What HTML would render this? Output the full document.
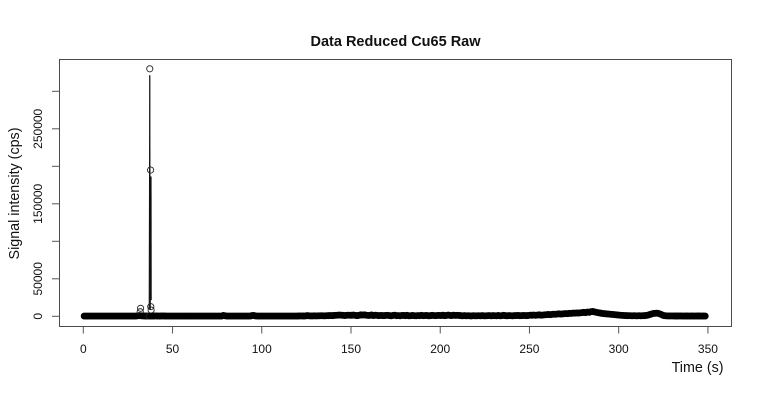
<!DOCTYPE html>
<html>
<head>
<meta charset="utf-8">
<title>Data Reduced Cu65 Raw</title>
<style>
html,body{margin:0;padding:0;background:#fff;width:760px;height:400px;overflow:hidden}
svg{display:block}
text{font-family:"Liberation Sans",Arial,sans-serif;fill:#111}
</style>
</head>
<body>
<svg id="chart" xmlns="http://www.w3.org/2000/svg" width="760" height="400" viewBox="0 0 760 400">
  <rect width="760" height="400" fill="#fff"/>
  <text x="395.5" y="46" font-size="14.5" font-weight="bold" text-anchor="middle">Data Reduced Cu65 Raw</text>
  <text transform="translate(19,193.5) rotate(-90)" font-size="14.3" text-anchor="middle">Signal intensity (cps)</text>
  <text x="723.5" y="372" font-size="14.3" text-anchor="end">Time (s)</text>
  <g id="marks"></g>
  <g id="axes"></g>
  <rect x="59.5" y="59.5" width="672" height="267" fill="none" stroke="#4a4a4a" stroke-width="1"/>
</svg>
<script>
const xTicks = [0, 50, 100, 150, 200, 250, 300, 350];
const yTicks = [0, 50000, 100000, 150000, 200000, 250000, 300000];
const yTickLabels = ["0", "50000", "", "150000", "", "250000", ""];
const baselineStart = 0.5;
const baselineValues = [
 300,320,280,300,310,290,300,320,300,280,
 300,310,290,300,300,320,300,290,310,300,
 300,280,300,320,300,310,290,300,300,310,
 600,900,700,500,400,400,300,300,350,400,
 450,400,350,400,500,400,350,300,300,320,
 300,310,290,300,300,320,300,290,310,300,
 300,280,300,320,300,310,290,300,300,310,
 300,320,280,300,310,290,300,320,1100,700,
 300,300,320,300,290,310,300,300,280,300,
 300,310,290,300,900,1200,500,290,300,300,
 300,320,280,300,310,290,300,320,300,280,
 300,310,290,300,300,320,300,290,310,300,
 400,500,450,400,500,900,600,500,550,600,
 500,600,700,800,700,700,800,900,1000,900,
 1100,1300,1500,1700,1500,1300,1000,1300,1500,1300,
 1400,1700,1200,900,1300,1900,1600,2000,1500,1100,
 1200,1800,1000,1400,1300,800,1200,1000,900,1100,
 1300,1000,700,1200,1500,800,1000,700,1100,1200,
 900,1300,600,800,1200,800,700,1000,800,1300,
 800,1000,1200,700,900,1300,1000,800,1200,1100,
 1000,1400,900,1200,1600,1200,1000,1500,1100,1300,
 1200,900,700,1000,600,800,700,500,800,700,
 600,800,700,900,600,700,800,1000,700,900,
 800,700,1100,600,800,1300,900,700,1000,800,
 700,900,1000,1200,900,800,1100,1000,900,1200,
 1500,1400,1700,1300,1600,1900,1500,1700,2000,2200,
 2400,2200,2500,2800,2600,3000,3300,3000,3200,3500,
 3700,3500,4000,3800,4300,4100,4500,4300,4700,4900,
 5300,4900,5700,5400,6200,6400,5800,5300,4800,4400,
 3900,3700,3400,3200,3000,2700,2500,2300,2000,1800,
 1500,1300,1100,1000,900,800,800,700,800,700,
 700,800,700,800,900,1100,1600,2400,3200,3800,
 4000,4100,3700,2800,1700,900,600,500,500,500,
 450,400,400,400,450,400,350,400,400,350,
 400,400,350,400,400,400,350,400,350
];
const spikeTimes = [31.9, 32.1, 36.9, 37.25, 37.7, 37.8, 38.0];
const spikeValues = [6100, 10700, 400, 330000, 195000, 12900, 8400];

const SVG_NS = "http://www.w3.org/2000/svg";
const plotBottom = 326.5;
function xScale(t) { return 83.3 + t * 1.7846; }
function yScale(v) { return 316.3 - v * 0.00075; }

const axes = document.getElementById("axes");
const marks = document.getElementById("marks");

xTicks.forEach(function (t) {
  const tick = document.createElementNS(SVG_NS, "line");
  
  
  tick.setAttribute("x1", xScale(t));
  tick.setAttribute("x2", xScale(t));
  tick.setAttribute("y1", plotBottom);
  tick.setAttribute("y2", plotBottom + 7);
  tick.setAttribute("stroke", "#555");
  axes.appendChild(tick);
  const label = document.createElementNS(SVG_NS, "text");
  
  
  label.setAttribute("x", xScale(t));
  label.setAttribute("y", 353);
  label.setAttribute("font-size", "12");
  label.setAttribute("text-anchor", "middle");
  label.textContent = String(t);
  axes.appendChild(label);
});

yTicks.forEach(function (v, i) {
  const tick = document.createElementNS(SVG_NS, "line");
  
  
  tick.setAttribute("x1", 52);
  tick.setAttribute("x2", 59.5);
  tick.setAttribute("y1", yScale(v));
  tick.setAttribute("y2", yScale(v));
  tick.setAttribute("stroke", "#555");
  axes.appendChild(tick);
  if (yTickLabels[i]) {
    const label = document.createElementNS(SVG_NS, "text");
    
    
    label.setAttribute("transform", "translate(42," + yScale(v) + ") rotate(-90)");
    label.setAttribute("font-size", "12");
    label.setAttribute("text-anchor", "middle");
    label.textContent = yTickLabels[i];
    axes.appendChild(label);
  }
});

const points = [];
baselineValues.forEach(function (v, i) { points.push({ t: baselineStart + i, v: v, dense: true }); });
spikeTimes.forEach(function (t, i) { points.push({ t: t, v: spikeValues[i], dense: false }); });
points.sort(function (a, b) { return a.t - b.t; });

/* R type="b": connecting segments stop short of each point marker */
const markerGap = 6.5;
points.forEach(function (p, i) {
  if (i === 0) return;
  const q = points[i - 1];
  const x1 = xScale(q.t), y1 = yScale(q.v), x2 = xScale(p.t), y2 = yScale(p.v);
  const len = Math.hypot(x2 - x1, y2 - y1);
  if (len <= markerGap * 2) return;
  const ux = (x2 - x1) / len, uy = (y2 - y1) / len;
  const seg = document.createElementNS(SVG_NS, "line");
  
  
  seg.setAttribute("x1", x1 + ux * markerGap);
  seg.setAttribute("y1", y1 + uy * markerGap);
  seg.setAttribute("x2", x2 - ux * markerGap);
  seg.setAttribute("y2", y2 - uy * markerGap);
  seg.setAttribute("stroke", "#111");
  seg.setAttribute("stroke-width", p.v === 12900 ? "2" : "1");
  marks.appendChild(seg);
});

/* Sampling in the source is far denser than one per second, so its rings merge into a solid band */
points.forEach(function (p) {
  const c = document.createElementNS(SVG_NS, "circle");
  
  
  c.setAttribute("cx", xScale(p.t));
  c.setAttribute("cy", yScale(p.v));
  c.setAttribute("r", p.dense ? "2.9" : "3.1");
  c.setAttribute("fill", p.dense ? "#000" : "none");
  c.setAttribute("stroke", p.dense ? "#000" : "#222");
  c.setAttribute("stroke-width", p.dense ? "1.1" : "0.9");
  marks.appendChild(c);
});
</script>
</body>
</html>
